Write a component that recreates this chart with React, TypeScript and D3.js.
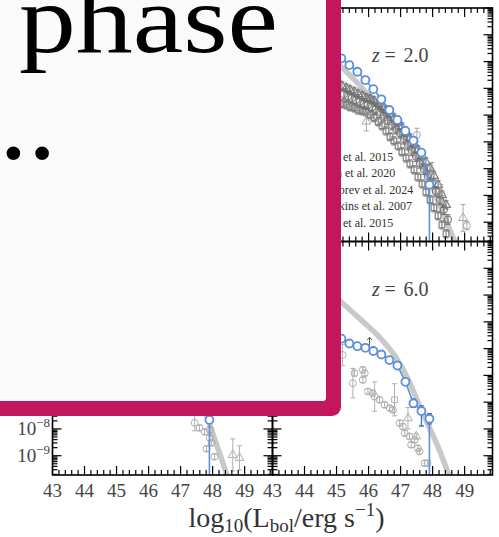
import React from 'react';
import * as d3 from 'd3';

const WIDTH = 499;
const HEIGHT = 537;
const FONT = '"Liberation Serif", "DejaVu Serif", serif';

// axes
const xDomain = [43, 49.87];
const yDomainLog = [-9.72, -1];
const xTicks = [43, 44, 45, 46, 47, 48, 49];
const yDecades = [-1, -2, -3, -4, -5, -6, -7, -8, -9];

// model (blue) : log10 L and log10 phi
const modelLogL = [44.9, 45.15, 45.4, 45.65, 45.9, 46.15, 46.4, 46.65, 46.9, 47.15, 47.4, 47.65, 47.9];
const modelTopRight = [-2.7, -2.88, -3.13, -3.38, -3.69, -4.03, -4.41, -4.81, -5.18, -5.59, -5.95, -6.4, -7.6];
const modelBottomRight = [-4.5, -4.63, -4.81, -4.91, -4.97, -5.09, -5.22, -5.43, -5.63, -6.24, -7.04, -7.33, -7.62];
const modelBottomRightErrUp = [0, 0, 0, 0, 0, 0, 0, 0, 0, 0, 0.15, 0.19, 0.19];
const modelBottomRightErrDown = [0, 0, 0, 0, 0, 0, 0, 0, 0, 0, 0.15, 0.56, 0.19];
const modelBottomLeft = [-3.0, -3.2, -3.4, -3.6, -3.85, -4.1, -4.4, -4.75, -5.1, -5.5, -6.0, -6.8, -7.66];

// reference fit (thick grey)
const fitTopRightL = [44.5, 45.09, 45.5, 45.91, 46.34, 46.97, 47.59, 47.91, 48.22, 48.44, 48.69, 48.8];
const fitTopRight = [-2.45, -3.13, -3.61, -4.13, -4.73, -5.66, -6.75, -7.42, -8.35, -9.0, -9.73, -10.1];
const fitBottomRightL = [44.5, 45.11, 45.73, 46.36, 46.73, 46.98, 47.23, 47.54, 47.86, 48.17, 48.48, 48.6];
const fitBottomRight = [-2.6, -3.22, -3.89, -4.6, -5.12, -5.57, -6.13, -6.99, -7.85, -8.67, -9.64, -10.05];
const fitBottomLeftL = [44.5, 45.5, 46.3, 46.9, 47.3, 47.6, 47.86, 48.1, 48.41, 48.6];
const fitBottomLeft = [-2.5, -3.4, -4.3, -5.1, -6.0, -6.85, -7.66, -8.5, -9.59, -10.3];

// observations, z = 2.0 (dense compilation, three surveys on a common grid)
const obsTopRightL = [45.17, 45.3, 45.42, 45.55, 45.67, 45.8, 45.92, 46.05, 46.17, 46.3, 46.42, 46.54, 46.67, 46.79, 46.92, 47.04, 47.17, 47.29, 47.42, 47.54, 47.67, 47.79, 47.92, 48.04, 48.17, 48.29, 48.42];
const obsTopRightUpper = [-3.91, -3.99, -4.06, -4.13, -4.21, -4.28, -4.36, -4.4, -4.47, -4.58, -4.69, -4.81, -4.96, -5.1, -5.25, -5.44, -5.66, -5.85, -6.07, -6.3, -6.52, -6.75, -6.97, -7.27, -7.6, -7.98, -8.35];
const obsTopRightMid = [-4.22, -4.3, -4.37, -4.44, -4.5, -4.57, -4.62, -4.7, -4.78, -4.9, -5.03, -5.18, -5.37, -5.52, -5.68, -5.9, -6.12, -6.33, -6.55, -6.8, -7.04, -7.3, -7.55, -7.85, -8.17, -8.53, -8.9];
const obsTopRightLower = [-4.58, -4.62, -4.69, -4.73, -4.81, -4.84, -4.88, -4.99, -5.1, -5.25, -5.4, -5.59, -5.81, -5.96, -6.15, -6.37, -6.6, -6.82, -7.04, -7.31, -7.57, -7.87, -8.16, -8.46, -8.76, -9.1, -9.43];
const obsTopRightExtraL = [45.93, 47.51, 47.98, 48.26, 48.95, 49.07];
const obsTopRightExtra = [-5.24, -5.74, -7.12, -7.9, -8.84, -9.13];
const obsTopRightExtraErr = [0.35, 0.25, 0.35, 0.3, 0.5, 0.15];

// observations, z = 6.0
const obsBottomRightL = [45.19, 45.56, 45.82, 45.82, 45.51, 45.88, 45.98, 46.13, 46.19, 46.34, 46.5, 46.66, 46.81, 46.76, 46.97, 47.07, 47.23, 47.13, 47.28, 47.44, 47.49, 47.33, 47.54, 47.59, 47.75, 47.84];
const obsBottomRightPhi = [-5.24, -5.92, -5.79, -6.17, -6.29, -5.92, -6.6, -6.66, -6.79, -6.91, -7.1, -7.22, -6.91, -7.29, -7.78, -7.91, -7.6, -8.16, -8.28, -8.41, -8.28, -8.59, -8.72, -8.84, -9.28, -9.28];
const obsBottomRightErr = [0.4, 0.1, 0.1, 0.1, 0.55, 0.1, 0.1, 0.1, 0.55, 0.1, 0.1, 0.1, 0.6, 0.1, 0.1, 0.1, 0.4, 0.1, 0.1, 0.1, 0.1, 0.1, 0.1, 0.1, 0.1, 0.1];
const obsBottomRightMarker = ['c', 'c', 'c', 'c', 'c', 'c', 'c', 'c', 'c', 'c', 'c', 'c', 's', 'c', 'c', 'c', 't', 'c', 'c', 'c', 't', 'c', 'c', 'c', 'c', 'c'];

const obsBottomLeftL = [47.44, 47.59, 47.75, 47.91, 47.97, 47.81, 48.06, 48.63, 48.84, 47.91];
const obsBottomLeftPhi = [-7.77, -7.96, -8.11, -8.33, -8.52, -8.74, -9.04, -8.97, -9.08, -8.03];
const obsBottomLeftErr = [0.3, 0.1, 0.1, 0.1, 0.1, 0.1, 0.1, 0.6, 0.45, 0.1];
const obsBottomLeftMarker = ['c', 'c', 'c', 'c', 'c', 'c', 'c', 't', 't', 'c'];

const limitBottomRightL = [46.03];
const limitBottomRightPhi = [-4.78];

const legendLabels = ['Aird et al. 2015', 'Shen et al. 2020', 'Kokorev et al. 2024', 'Hopkins et al. 2007', 'Aird et al. 2015'];

// layout
const COLS = [52.5, 272.5];
const ROWS = [8, 241.5];
const PW = 220;
const PH = 233.5;
const CARD_BOTTOM = 416;

const BLUE = '#5b8fdc';
const GREY_FIT = '#c9c9c9';

function scales(x0: number, y0: number) {
  const x = d3.scaleLinear().domain(xDomain).range([x0, x0 + PW]);
  const y = d3.scaleLog().domain([10 ** yDomainLog[0], 10 ** yDomainLog[1]]).range([y0 + PH, y0]);
  return { x, y };
}

function markerD(m: string) {
  const t = m === 't' ? d3.symbolTriangle : m === 's' ? d3.symbolSquare : d3.symbolCircle;
  const size = m === 't' ? 34 : m === 's' ? 32 : 38;
  return d3.symbol(t, size)() as string;
}

function Axes({ x0, y0, xLabels, yLabels }: { x0: number; y0: number; xLabels: boolean; yLabels: boolean }) {
  const { x, y } = scales(x0, y0);
  const xMinor = d3.range(0, 35).map((i) => 43 + i * 0.2).filter((v) => Math.abs(v - Math.round(v)) > 1e-6 && v <= xDomain[1]);
  const yMinor: number[] = [];
  for (let k = -10; k <= -1; k++) {
    for (let m = 2; m <= 9; m++) {
      const lv = k + Math.log10(m);
      if (lv > yDomainLog[0] && lv < yDomainLog[1]) yMinor.push(m * 10 ** k);
    }
  }
  const bottom = y0 + PH;
  const right = x0 + PW;
  const maj = 9;
  const mnr = 5;
  const lines: React.ReactNode[] = [];
  xTicks.forEach((v, i) => {
    const px = x(v);
    lines.push(<line key={'xb' + i} x1={px} x2={px} y1={bottom} y2={bottom - maj} />);
    lines.push(<line key={'xt' + i} x1={px} x2={px} y1={y0} y2={y0 + maj} />);
  });
  xMinor.forEach((v, i) => {
    const px = x(v);
    lines.push(<line key={'xbm' + i} x1={px} x2={px} y1={bottom} y2={bottom - mnr} />);
    lines.push(<line key={'xtm' + i} x1={px} x2={px} y1={y0} y2={y0 + mnr} />);
  });
  yDecades.forEach((k, i) => {
    const py = y(10 ** k);
    lines.push(<line key={'yl' + i} x1={x0} x2={x0 + maj} y1={py} y2={py} />);
    lines.push(<line key={'yr' + i} x1={right} x2={right - maj} y1={py} y2={py} />);
  });
  yMinor.forEach((v, i) => {
    const py = y(v);
    lines.push(<line key={'ylm' + i} x1={x0} x2={x0 + mnr} y1={py} y2={py} />);
    lines.push(<line key={'yrm' + i} x1={right} x2={right - mnr} y1={py} y2={py} />);
  });
  const shownDecades = yDecades.filter((k) => y(10 ** k) > y0 + 12);
  return (
    <g>
      <g stroke="#000" strokeWidth={1.2}>{lines}</g>
      <rect x={x0} y={y0} width={PW} height={PH} fill="none" stroke="#000" strokeWidth={1.6} />
      {xLabels &&
        xTicks.map((v, i) => (
          <text key={'xl' + i} x={x(v)} y={bottom + 22} textAnchor="middle" fontSize={19} fill="#444" fontFamily={FONT}>
            {String(v)}
          </text>
        ))}
      {yLabels &&
        shownDecades.map((k, i) => (
          <text key={'yl' + i} x={x0 - 2.5} y={y(10 ** k) + 6} textAnchor="end" fontSize={19} fill="#444" fontFamily={FONT}>
            10
            <tspan dy={-8} fontSize={13}>{'\u2212' + String(-k)}</tspan>
          </text>
        ))}
    </g>
  );
}

function Fit({ x0, y0, L, P, clip }: { x0: number; y0: number; L: number[]; P: number[]; clip: string }) {
  const { x, y } = scales(x0, y0);
  const line = d3
    .line<number>()
    .x((_, i) => x(L[i]))
    .y((_, i) => y(10 ** P[i]))
    .curve(d3.curveMonotoneX);
  return <path d={line(P) as string} fill="none" stroke={GREY_FIT} strokeWidth={5.5} clipPath={`url(#${clip})`} />;
}

function Obs({ x0, y0, L, P, E, M, color, clip, opacity = 0.85, sw = 1 }: { x0: number; y0: number; L: number[]; P: number[]; E: number[]; M: string[]; color: string; clip: string; opacity?: number; sw?: number }) {
  const { x, y } = scales(x0, y0);
  return (
    <g clipPath={`url(#${clip})`} stroke={color} fill="none" strokeWidth={sw} opacity={opacity}>
      {L.map((l, i) => {
        const px = x(l);
        const py = y(10 ** P[i]);
        const yt = y(10 ** (P[i] + E[i]));
        const yb = y(10 ** (P[i] - E[i]));
        return (
          <g key={i}>
            <line x1={px} x2={px} y1={yt} y2={yb} />
            <line x1={px - 2.5} x2={px + 2.5} y1={yt} y2={yt} />
            <line x1={px - 2.5} x2={px + 2.5} y1={yb} y2={yb} />
            <path d={markerD(M[i])} transform={`translate(${px},${py})`} />
          </g>
        );
      })}
    </g>
  );
}

function Model({ x0, y0, P, up, down, clip }: { x0: number; y0: number; P: number[]; up?: number[]; down?: number[]; clip: string }) {
  const { x, y } = scales(x0, y0);
  const pts: [number, number][] = modelLogL.map((l, i) => [x(l), y(10 ** P[i])]);
  const last = pts[pts.length - 1];
  const full: [number, number][] = [...pts, [last[0], y0 + PH]];
  const line = d3.line();
  return (
    <g clipPath={`url(#${clip})`}>
      <path d={line(full) as string} fill="none" stroke={BLUE} strokeWidth={1.6} />
      {up &&
        down &&
        pts.map((p, i) =>
          up[i] > 0 ? (
            <g key={'e' + i} stroke="#3d6dc4" strokeWidth={1.3}>
              <line x1={p[0]} x2={p[0]} y1={y(10 ** (P[i] + up[i]))} y2={y(10 ** (P[i] - down[i]))} />
              <line x1={p[0] - 2.5} x2={p[0] + 2.5} y1={y(10 ** (P[i] + up[i]))} y2={y(10 ** (P[i] + up[i]))} />
              <line x1={p[0] - 2.5} x2={p[0] + 2.5} y1={y(10 ** (P[i] - down[i]))} y2={y(10 ** (P[i] - down[i]))} />
            </g>
          ) : null
        )}
      {pts.map((p, i) => (
        <circle key={i} cx={p[0]} cy={p[1]} r={4} fill="#fff" stroke={BLUE} strokeWidth={1.8} />
      ))}
    </g>
  );
}

function ZLabel({ x0, y0, value }: { x0: number; y0: number; value: string }) {
  return (
    <text y={y0 + 54} fontSize={20} fill="#444" fontFamily={FONT}>
      <tspan x={x0 + 99.5} fontStyle="italic">z</tspan>
      <tspan x={x0 + 112}>=</tspan>
      <tspan x={x0 + 131}>{value}</tspan>
    </text>
  );
}

export default function App() {
  const [cL, cR] = COLS;
  const [rT, rB] = ROWS;
  const brS = scales(cR, rB);
  const panels = [
    { id: 'tl', x0: cL, y0: rT },
    { id: 'tr', x0: cR, y0: rT },
    { id: 'bl', x0: cL, y0: rB },
    { id: 'br', x0: cR, y0: rB },
  ];
  const n = obsTopRightL.length;
  const errs = (v: number) => obsTopRightL.map(() => v);
  return (
    <svg width={WIDTH} height={HEIGHT} style={{ position: 'absolute', left: 0, top: 0, background: '#fff' }} fontFamily={FONT}>
      <defs>
        {panels.map((p) => (
          <clipPath key={p.id} id={'clip-' + p.id}>
            <rect x={p.x0} y={p.y0} width={PW} height={PH} />
          </clipPath>
        ))}
      </defs>
      <rect x={0} y={0} width={WIDTH} height={HEIGHT} fill="#fff" />

      {/* top-right panel, z = 2.0 */}
      <Fit x0={cR} y0={rT} L={fitTopRightL} P={fitTopRight} clip="clip-tr" />
      <Obs x0={cR} y0={rT} L={obsTopRightL} P={obsTopRightUpper} E={errs(0.15)} M={Array(n).fill('t')} color="#6a6a6a" clip="clip-tr" sw={1.2} />
      <Obs x0={cR} y0={rT} L={obsTopRightL.map((v) => v + 0.06)} P={obsTopRightMid} E={errs(0.18)} M={Array(n).fill('c')} color="#6a6a6a" clip="clip-tr" sw={1.2} />
      <Obs x0={cR} y0={rT} L={obsTopRightL} P={obsTopRightLower} E={errs(0.15)} M={Array(n).fill('s')} color="#6a6a6a" clip="clip-tr" sw={1.2} />
      <Obs x0={cR} y0={rT} L={obsTopRightExtraL} P={obsTopRightExtra} E={obsTopRightExtraErr} M={['t', 'c', 't', 't', 't', 'c']} color="#999" clip="clip-tr" />
      <Model x0={cR} y0={rT} P={modelTopRight} clip="clip-tr" />
      <ZLabel x0={cR} y0={rT} value="2.0" />
      {legendLabels.map((t, i) => (
        <text key={i} x={318} y={161 + i * 16.4} fontSize={12} fill="#333" fontFamily={FONT}>
          {t}
        </text>
      ))}

      {/* bottom-left panel */}
      <Fit x0={cL} y0={rB} L={fitBottomLeftL} P={fitBottomLeft} clip="clip-bl" />
      <Obs x0={cL} y0={rB} L={obsBottomLeftL} P={obsBottomLeftPhi} E={obsBottomLeftErr} M={obsBottomLeftMarker} color="#a3a3a3" clip="clip-bl" />
      <Model x0={cL} y0={rB} P={modelBottomLeft} clip="clip-bl" />

      {/* bottom-right panel, z = 6.0 */}
      <Fit x0={cR} y0={rB} L={fitBottomRightL} P={fitBottomRight} clip="clip-br" />
      <Obs x0={cR} y0={rB} L={obsBottomRightL} P={obsBottomRightPhi} E={obsBottomRightErr} M={obsBottomRightMarker} color="#a3a3a3" clip="clip-br" />
      {limitBottomRightL.map((l, i) => {
        const px = brS.x(l);
        const py = brS.y(10 ** limitBottomRightPhi[i]);
        return (
          <g key={'lim' + i} stroke="#555" strokeWidth={1} fill="none">
            <line x1={px} x2={px} y1={py + 3} y2={py - 5} />
            <path d={`M${px - 2.5},${py - 2.5}L${px},${py - 5.5}L${px + 2.5},${py - 2.5}`} />
          </g>
        );
      })}
      <Model x0={cR} y0={rB} P={modelBottomRight} up={modelBottomRightErrUp} down={modelBottomRightErrDown} clip="clip-br" />
      <ZLabel x0={cR} y0={rB} value="6.0" />

      {/* axes */}
      <Axes x0={cL} y0={rT} xLabels={false} yLabels={true} />
      <Axes x0={cR} y0={rT} xLabels={false} yLabels={false} />
      <Axes x0={cL} y0={rB} xLabels={true} yLabels={true} />
      <Axes x0={cR} y0={rB} xLabels={true} yLabels={false} />

      <text x={286.5} y={527} textAnchor="middle" fontSize={28} fill="#333" fontFamily={FONT}>
        log
        <tspan fontSize={19} dy={5}>10</tspan>
        <tspan dy={-5}>(L</tspan>
        <tspan fontSize={19} dy={5}>bol</tspan>
        <tspan dy={-5}>/erg s</tspan>
        <tspan fontSize={19} dy={-11}>{'\u22121'}</tspan>
        <tspan dy={11}>)</tspan>
      </text>

      {/* overlay card */}
      <rect x={-40} y={-40} width={381} height={CARD_BOTTOM + 40} rx={9} fill="#c2185b" />
      <rect x={-40} y={-40} width={366} height={CARD_BOTTOM + 25} rx={3} fill="#fafafa" />
      <text x={19} y={52} fontSize={98} fill="#000" fontFamily={FONT} textLength={259} lengthAdjust="spacingAndGlyphs">
        phase
      </text>
      <text x={-1} y={158} fontSize={115} fill="#000" fontFamily={FONT}>
        ..
      </text>
    </svg>
  );
}
